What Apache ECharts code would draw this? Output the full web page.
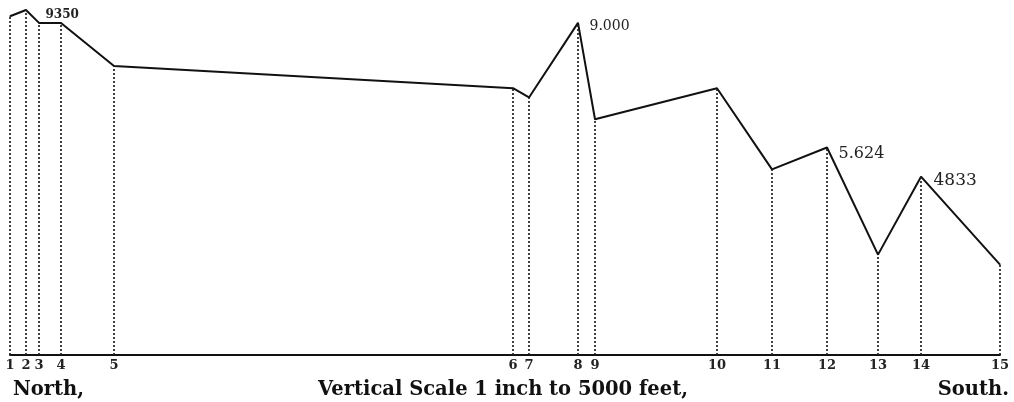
<!DOCTYPE html>
<html>
<head>
<meta charset="utf-8">
<script src="https://cdn.jsdelivr.net/npm/echarts@6/dist/echarts.min.js"></script>
<style>
  html, body { margin: 0; padding: 0; background: #fff; }
  #chart { width: 1014px; height: 402px; }
</style>
</head>
<body>
<div id="chart"></div>
<script>
// station numbers along the section, north to south
var stations = ['1','2','3','4','5','6','7','8','9','10','11','12','13','14','15'];
// horizontal distance along the section (relative units)
var distance = [0, 16, 29, 51, 104, 503, 519, 568, 585, 707, 762, 817, 868, 911, 990];
// elevation in feet
var elevation = [9180, 9350, 9000, 9000, 7830, 7230, 6980, 9000, 6390, 7230, 5030, 5624, 2720, 4833, 2450];
// elevation figures written on the drawing
var peakLabels = ['', '9350', '', '', '', '', '', '9.000', '', '', '', '5.624', '', '4833', ''];

var chart = echarts.init(document.getElementById('chart'));

// where each figure sits relative to its point, and how big
var labelStyle = {
	1: { offset: [19, 5], size: 12, weight: 'bold' },
	7: { offset: [11, 3], size: 14, weight: 'normal' },
	11: { offset: [11, 6], size: 16, weight: 'normal' },
	13: { offset: [12, 4], size: 17, weight: 'normal' }
};

var points = distance.map(function(d, i) {
	var item = { value: [d, elevation[i]] };
	if (peakLabels[i]) {
		var s = labelStyle[i];
		item.label = {
			show: true,
			position: 'right',
			distance: 0,
			offset: s.offset,
			formatter: peakLabels[i],
			fontFamily: 'DejaVu Serif',
			fontSize: s.size,
			fontWeight: s.weight,
			color: '#222'
		};
	}
	return item;
});

var drops = distance.map(function(d, i) {
	return [{ coord: [d, 0] }, { coord: [d, elevation[i]] }];
});

var titleFont = {
	fontFamily: 'DejaVu Serif',
	fontWeight: 'bold',
	fontSize: 19.5,
	color: '#111'
};

var option = {
	animation: false,
	backgroundColor: '#fff',
	title: [
		{ text: 'North,', left: 8, top: 375, textStyle: titleFont },
		{ text: 'Vertical Scale 1 inch to 5000 feet,', left: 313, top: 375, textStyle: titleFont },
		{ text: 'South.', right: 0, top: 375, textStyle: titleFont }
	],
	grid: { left: 10, right: 14, top: 10, bottom: 47 },
	xAxis: {
		type: 'value',
		min: 0,
		max: 990,
		splitLine: { show: false },
		axisLine: { show: true, lineStyle: { color: '#111', width: 2 } },
		axisTick: { show: false },
		axisLabel: {
			customValues: distance,
			formatter: function(v) {
				var idx = distance.indexOf(v);
				return idx >= 0 ? stations[idx] : '';
			},
			margin: 4,
			fontFamily: 'DejaVu Serif',
			fontSize: 13,
			fontWeight: 'bold',
			color: '#222',
			hideOverlap: false
		}
	},
	yAxis: {
		type: 'value',
		min: 0,
		max: 9350,
		show: false,
		splitLine: { show: false }
	},
	series: [
		{
			type: 'line',
			data: points,
			symbol: 'circle',
			symbolSize: 1,
			showSymbol: true,
			itemStyle: { color: '#111' },
			lineStyle: { color: '#111', width: 2 },
			label: { show: false },
			markLine: {
				silent: true,
				symbol: 'none',
				label: { show: false },
				lineStyle: { color: '#222', width: 1.7, type: [2, 2] },
				data: drops
			}
		}
	]
};

chart.setOption(option);
</script>
</body>
</html>
